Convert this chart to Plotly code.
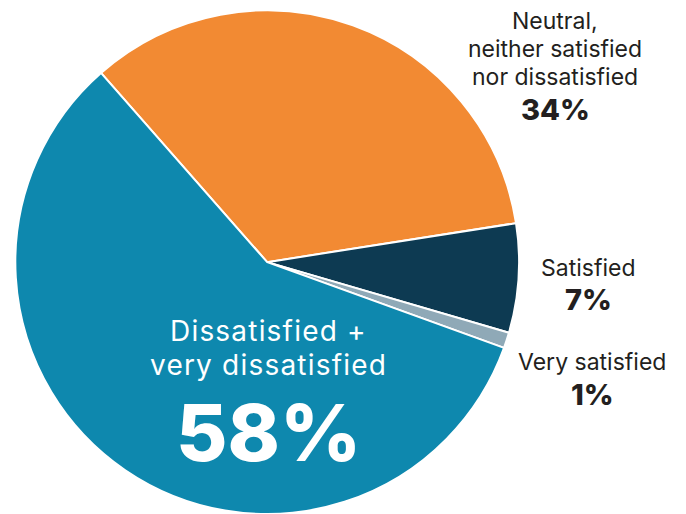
import plotly.graph_objects as go

# Data
labels = ["Neutral, neither satisfied nor dissatisfied", "Satisfied", "Very satisfied",
          "Dissatisfied + very dissatisfied"]
label_lines = [["Neutral,", "neither satisfied", "nor dissatisfied"], ["Satisfied"], ["Very satisfied"],
               ["Dissatisfied +", "very dissatisfied"]]
values = [34, 7, 1, 58]
colors = ["#F28A33", "#0D3A52", "#8FA9B7", "#0E88AE"]

W, H = 686, 514
FONT = "Inter, 'Open Sans', sans-serif"

fig = go.Figure(go.Pie(
    labels=labels, values=values, sort=False, direction="clockwise", rotation=-41.3,
    marker=dict(colors=colors, line=dict(color="white", width=2)),
    textinfo="none", hoverinfo="label+percent", showlegend=False,
    domain=dict(x=[0.022, 0.757], y=[0.0, 0.98]),
))

def px(x, y):
    return x / W, 1 - y / H

def add(text, cx, cy, size, color, weight=None):
    xx, yy = px(cx, cy)
    f = dict(family=FONT, size=size, color=color)
    if weight:
        f["weight"] = weight
    annotations.append(dict(x=xx, y=yy, xref="paper", yref="paper", text=text,
                            showarrow=False, xanchor="center", yanchor="middle",
                            borderpad=0, font=f))

annotations = []
# outside labels: (slice index, line centers, label font, pct center, pct font, color, x center)
outside = [
    (0, [21, 49, 77], 23, 109, 29, "#231F20", 555),
    (1, [267.5], 23, 299.5, 29, "#231F20", 588),
    (2, [362], 23, 394, 29, "#231F20", 592),
]
for i, ys, fs, py, pfs, col, cx in outside:
    for line, y in zip(label_lines[i], ys):
        add(line, cx, y, fs, col)
    add(f"{values[i]}%", cx, py, pfs, col, 800)

# inside label for the largest slice
for line, y in zip(label_lines[3], [330.8, 364.8]):
    add(f"<span style='letter-spacing:1.2px'>{line}</span>", 268, y, 28, "#FFFFFF")
add(f"{values[3]}%", 268, 431.5, 79, "#FFFFFF", 800)

fig.update_layout(width=W, height=H, margin=dict(l=0, r=0, t=0, b=0),
                  paper_bgcolor="white", plot_bgcolor="white", annotations=annotations)
fig.write_html("out.html")
